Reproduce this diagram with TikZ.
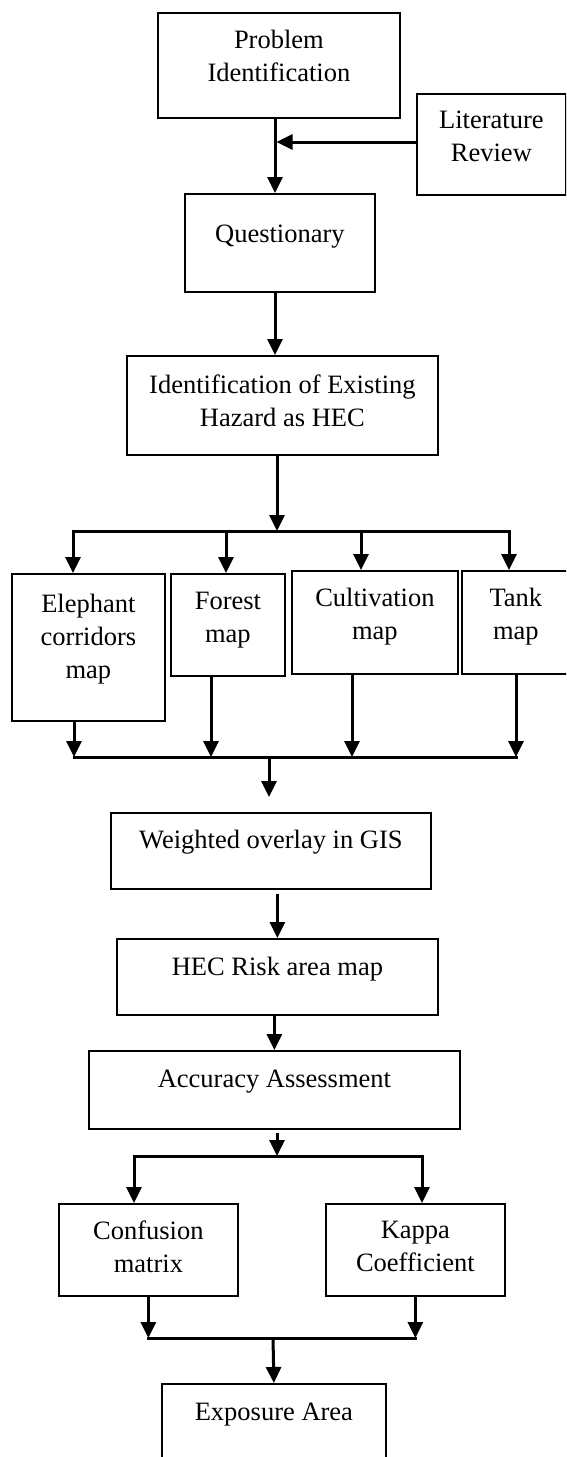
\documentclass[tikz,border=0pt]{standalone}
\usepackage{fontspec}
\setmainfont{Liberation Serif}
\usetikzlibrary{arrows.meta}

\begin{document}
\begin{tikzpicture}[x=1pt, y=-1pt,
  box/.style 2 args={draw, line width=1.8pt, anchor=north west, inner sep=0pt, minimum width=#1, minimum height=#2},
  txt/.style={align=center, inner sep=0pt, font=\fontsize{26.5pt}{33pt}\selectfont},
  flow/.style={line width=3pt, -{Triangle[length=16pt,width=15pt]}},
  bus/.style={line width=3pt, line cap=rect}]
\path[use as bounding box, clip] (0,0) rectangle (566,1457);
\node[box={242pt}{105pt}, label={[txt, yshift=9pt]center:{Problem\\Identification}}] (prob) at (157,12) {};
\node[box={149pt}{101pt}, label={[txt, yshift=8.5pt]center:{Literature\\Review}}] (lit) at (416,93) {};
\node[box={190pt}{98pt}, label={[txt, yshift=6pt]center:{Questionary}}] (quest) at (184,193) {};
\node[box={311pt}{99pt}, label={[txt, yshift=5pt]center:{Identification of Existing\\Hazard as HEC}}] (ident) at (126,355) {};
\node[box={153pt}{147pt}, label={[txt, yshift=8pt]center:{Elephant\\corridors\\map}}] (eleph) at (11,573) {};
\node[box={114pt}{102pt}, label={[txt, yshift=5pt]center:{Forest\\map}}] (forest) at (170,573) {};
\node[box={166pt}{103pt}, label={[txt, yshift=6pt]center:{Cultivation\\map}}] (cult) at (291,570) {};
\node[box={108pt}{103pt}, label={[txt, yshift=6pt]center:{Tank\\map}}] (tank) at (461,570) {};
\node[box={320pt}{76pt}, label={[txt, yshift=8.5pt]center:{Weighted overlay in GIS}}] (wover) at (110,812) {};
\node[box={321pt}{76pt}, label={[txt, yshift=8pt]center:{HEC Risk area map}}] (risk) at (116,938) {};
\node[box={371pt}{78pt}, label={[txt, yshift=8pt]center:{Accuracy Assessment}}] (acc) at (88,1050) {};
\node[box={179pt}{92pt}, label={[txt, yshift=3.5pt]center:{Confusion\\matrix}}] (conf) at (58,1203) {};
\node[box={179pt}{92pt}, label={[txt, yshift=3.5pt]center:{Kappa\\Coefficient}}] (kappa) at (325,1203) {};
\node[box={224pt}{100pt}, label={[txt, yshift=19pt]center:{Exposure Area}}] (expo) at (161,1383) {};
\coordinate (m1) at (275,142);
\draw[flow] (prob.south -| m1) -- (quest.north -| m1);
\draw[flow] (lit.west |- m1) -- ([xshift=1.5pt]m1);
\draw[flow] (quest.south -| m1) -- (ident.north -| m1);
\coordinate (b1) at (277,531);
\draw[flow] (ident.south -| b1) -- (b1);
\foreach \n/\x in {eleph/73, forest/226, cult/361, tank/509} {
  \coordinate (t\n) at (\x,531);
  \draw[flow] (t\n) -- (t\n |- \n.north);
}
\draw[bus] (teleph) -- (ttank);
\foreach \n/\x in {eleph/74, forest/211, cult/352, tank/516} {
  \coordinate (u\n) at (\x,757);
  \draw[flow] (u\n |- \n.south) -- (u\n);
}
\draw[bus] (ueleph) -- (utank);
\coordinate (b2) at (269,757);
\coordinate (w2) at (269,797);
\draw[flow] (b2) -- (w2);
\draw[flow, shorten <=4pt] (risk.north |- wover.south) -- (risk.north);
\draw[flow] (acc.north |- risk.south) -- (acc.north);
\coordinate (b3) at (277,1156);
\draw[flow, shorten <=3pt] (acc.south -| b3) -- (b3);
\foreach \n/\x in {conf/134, kappa/422} {
  \coordinate (t\n) at (\x,1156);
  \draw[flow] (t\n) -- (t\n |- \n.north);
}
\draw[bus] (tconf) -- (tkappa);
\coordinate (b4) at (273,1338);
\foreach \n in {conf, kappa}
  \draw[flow] (\n.south) -- (\n.south |- b4);
\draw[bus] (conf.south |- b4) -- (kappa.south |- b4);
\draw[flow] (b4) -- (expo.north);
\end{tikzpicture}
\end{document}
